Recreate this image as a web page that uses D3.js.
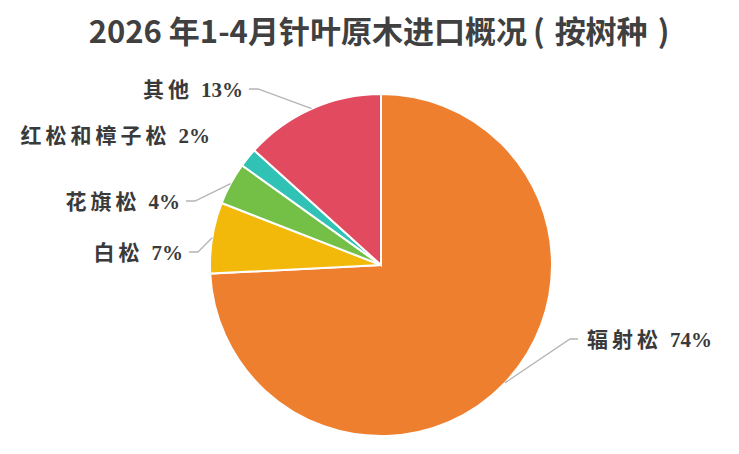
<!DOCTYPE html>
<html lang="zh">
<head>
    <meta charset="UTF-8">
    <title>针叶原木进口</title>
    <script src="https://d3js.org/d3.v7.min.js"></script>
    <style>
        body { margin: 0; background: #fff; }
    </style>
</head>
<body>
<div id="chart"></div>

<script type="text/javascript">
    var width = 739;
    var height = 454;

    // 树种和占比(%)
    var species = ["辐射松", "白松", "花旗松", "红松和樟子松", "其他"];
    var shares = [74.2, 6.7, 4.0, 1.8, 13.3];
    var colors = ["#ed7f2f", "#f2b90a", "#74bf45", "#2fc2b5", "#e24b5f"];

    var cx = 381, cy = 265, radius = 171;

    var svg = d3.select("#chart")
        .append("svg")
        .attr("width", width)
        .attr("height", height);

    var title = svg.append("text")
        .attr("x", 379)
        .attr("y", 43)
        .attr("text-anchor", "middle")
        .attr("font-family", "'Noto Sans CJK SC', 'Noto Sans', sans-serif")
        .attr("font-weight", "bold")
        .attr("font-size", "31px")
        .attr("fill", "#404040");
    title.append("tspan").text("2026 年1-4月针叶原木进口概况");
    title.append("tspan").attr("dx", 6).text("(");
    title.append("tspan").attr("dx", 10).text("按树种");
    title.append("tspan").attr("dx", 10).text(")");

    var data = species.map(function (d, i) {
        return {name: d, value: shares[i], color: colors[i]};
    });

    var pie = d3.pie()
        .value(function (d) { return d.value; })
        .sort(null);

    var arcPath = d3.arc()
        .innerRadius(0)
        .outerRadius(radius);

    var g = svg.append("g")
        .attr("transform", "translate(" + cx + "," + cy + ")");

    var arcs = pie(data);

    g.selectAll("path")
        .data(arcs)
        .enter()
        .append("path")
        .attr("d", arcPath)
        .attr("fill", function (d) { return d.data.color; })
        .attr("stroke", "#fff")
        .attr("stroke-width", "2px");

    // 标签位置 (相对圆心) 和引导线
    var labelPos = [
        {x: 206, y: 77, anchor: "start", line: true},
        {x: -198, y: -10, anchor: "end", line: true},
        {x: -201, y: -61, anchor: "end", line: true},
        {x: -171, y: -127, anchor: "end", line: false},
        {x: -138, y: -173, anchor: "end", line: true}
    ];

    var edgeArc = d3.arc()
        .innerRadius(radius)
        .outerRadius(radius);

    arcs.forEach(function (d, i) {
        var p = labelPos[i];
        if (p.line) {
            var mid = edgeArc.centroid(d);
            var lx = p.anchor === "start" ? p.x - 9 : p.x + 6;
            var kx = p.anchor === "start" ? lx - 8 : lx + 9;
            var ly = p.y - 3;
            g.append("polyline")
                .attr("points", [[mid[0], mid[1]], [kx, ly], [lx, ly]].map(function (q) { return q.join(","); }).join(" "))
                .attr("fill", "none")
                .attr("stroke", "#b4b4b4")
                .attr("stroke-width", 1.3);
        }
        var t = g.append("text")
            .attr("x", p.x)
            .attr("y", p.y + 5)
            .attr("text-anchor", p.anchor)
            .attr("font-weight", "bold")
            .attr("fill", "#3a3a3a");
        t.append("tspan")
            .attr("font-family", "'Noto Sans CJK SC', serif")
            .attr("font-size", "21px")
            .attr("letter-spacing", "4px")
            .text(d.data.name);
        t.append("tspan")
            .attr("dx", 8)
            .attr("font-family", "'Liberation Serif', serif")
            .attr("font-size", "21px")
            .text(Math.round(d.data.value) + "%");
    });
</script>
</body>
</html>
